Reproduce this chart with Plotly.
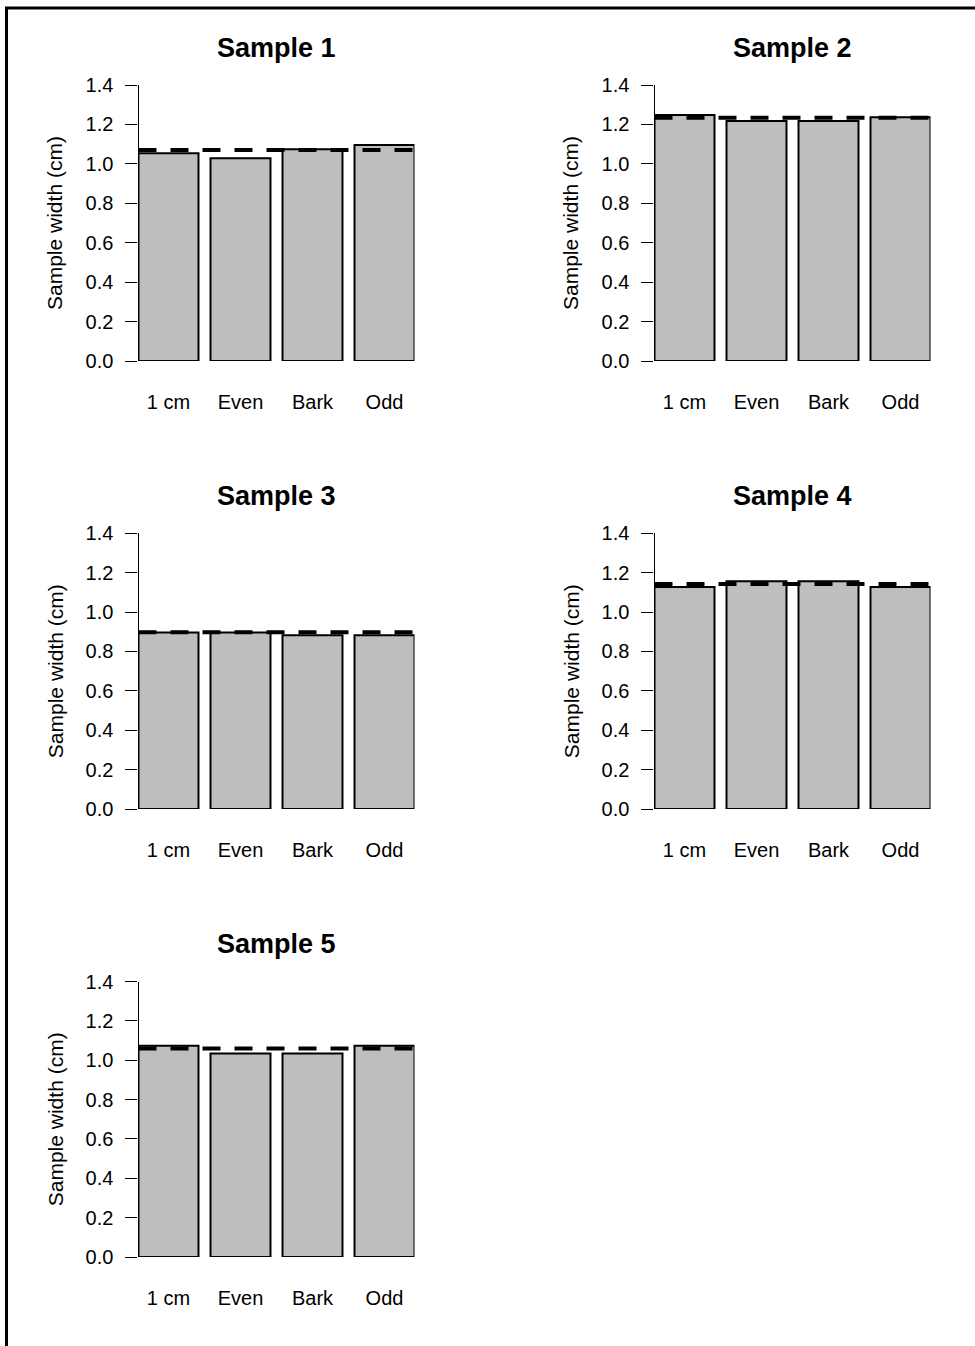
import plotly.graph_objects as go

# Bar categories and per-sample measurements
categories = ["1 cm", "Even", "Bark", "Odd"]
sample_names = ["Sample 1", "Sample 2", "Sample 3", "Sample 4", "Sample 5"]
sample1 = [1.054, 1.028, 1.074, 1.096]
sample2 = [1.248, 1.218, 1.218, 1.236]
sample3 = [0.896, 0.896, 0.882, 0.882]
sample4 = [1.127, 1.156, 1.156, 1.127]
sample5 = [1.073, 1.034, 1.034, 1.073]
# Reference width for each sample (dashed line)
reference_width = [1.070, 1.234, 0.897, 1.143, 1.060]
y_ticks = [0.0, 0.2, 0.4, 0.6, 0.8, 1.0, 1.2, 1.4]

values = [sample1, sample2, sample3, sample4, sample5]

W, H = 975, 1346
FONT = "Liberation Sans, Arial, sans-serif"

# Panel geometry in pixels: column left/right edges, row bottom/top edges
col_px = [(138.5, 414.5), (654.5, 930.5)]
row_px = [(361, 85), (809, 533.3), (1257, 981.5)]
title_px = [48, 496, 944]
ylab_px = [55, 571]

fig = go.Figure()

for i, (name, vals, ref) in enumerate(zip(sample_names, values, reference_width)):
    r, c = divmod(i, 2)
    n = i + 1
    xa = "x" if n == 1 else f"x{n}"
    ya = "y" if n == 1 else f"y{n}"
    x0, x1 = col_px[c]
    yb, yt = row_px[r]

    fig.add_trace(go.Bar(
        x=categories, y=vals, xaxis=xa, yaxis=ya, width=0.8333,
        marker=dict(color="#BEBEBE", line=dict(color="black", width=2)),
        showlegend=False, hoverinfo="skip",
    ))

    fig.update_layout({
        f"xaxis{'' if n == 1 else n}": dict(
            domain=[x0 / W, x1 / W], anchor=ya, type="category",
            categoryorder="array", categoryarray=categories,
            range=[-0.4167, 3.4167], showline=False, ticks="",
            showgrid=False, zeroline=False, automargin=False,
            tickfont=dict(family=FONT, size=20, color="black"),
            ticklabelstandoff=27,
        ),
        f"yaxis{'' if n == 1 else n}": dict(
            domain=[1 - yb / H, 1 - yt / H], anchor=xa,
            range=[0, 1.4], tickvals=y_ticks, tickformat=".1f",
            ticks="outside", ticklen=12, tickwidth=1.3, tickcolor="black",
            showline=True, linecolor="black", linewidth=1.3,
            showgrid=False, zeroline=False, automargin=False,
            tickfont=dict(family=FONT, size=20, color="black"),
            ticklabelstandoff=8,
        ),
    })

    # Dashed reference line across the panel
    fig.add_shape(type="line", xref=f"{xa} domain", yref=ya,
                  x0=0, x1=1, y0=ref, y1=ref,
                  line=dict(color="black", width=4, dash="18px,14px"))

    # Panel title
    fig.add_annotation(text=f"<b>{name}</b>", xref=f"{xa} domain", x=0.5,
                       yref="paper", y=1 - title_px[r] / H, yanchor="middle",
                       showarrow=False,
                       font=dict(family=FONT, size=27, color="black"))
    # Y axis label
    fig.add_annotation(text="Sample width (cm)", xref="paper", x=ylab_px[c] / W,
                       yref=f"{ya} domain", y=0.5, textangle=-90,
                       showarrow=False, xanchor="center", yanchor="middle",
                       font=dict(family=FONT, size=21, color="black"))

# Outer frame
fig.add_shape(type="rect", xref="paper", yref="paper",
              x0=6.5 / W, x1=1.05, y0=-0.05, y1=1 - 8 / H,
              line=dict(color="black", width=3), fillcolor="rgba(0,0,0,0)")

fig.update_layout(
    width=W, height=H, margin=dict(l=0, r=0, t=0, b=0, autoexpand=False),
    paper_bgcolor="white", plot_bgcolor="white", bargap=0.1667,
)

fig.write_html("out.html")
